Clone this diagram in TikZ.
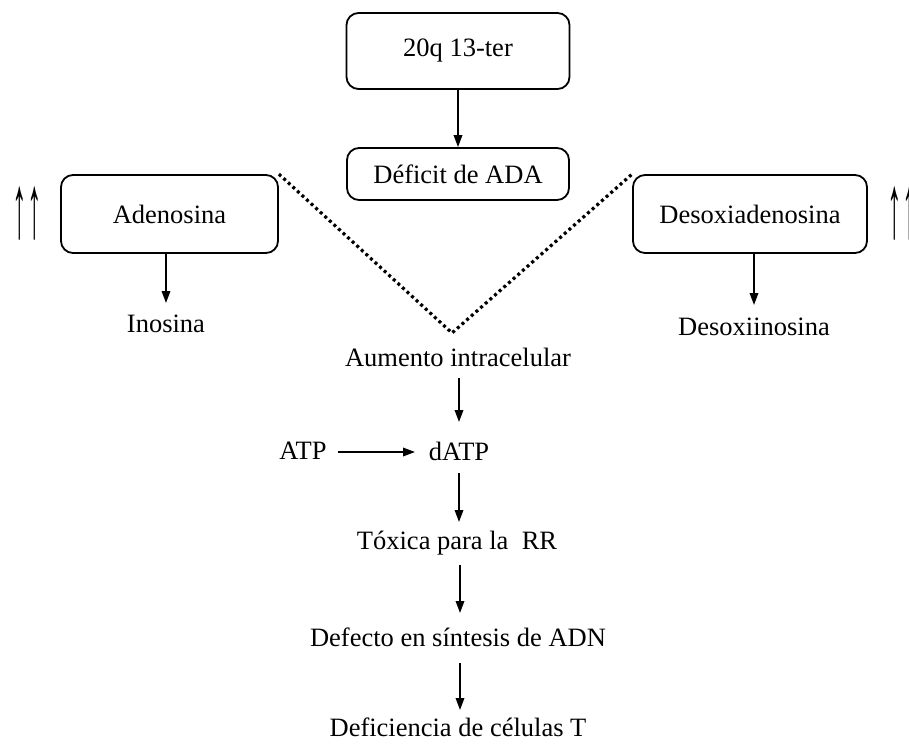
\documentclass[tikz,border=0pt]{standalone}
\usepackage{fontspec}
\usepackage{graphicx}
\setmainfont{Liberation Serif}
\usetikzlibrary{arrows.meta}
\begin{document}
\begin{tikzpicture}[x=1pt,y=-1pt,
  every node/.style={font=\fontsize{26.5}{30}\selectfont, inner sep=0pt},
  box/.style={draw, line width=1.8pt, rounded corners=12pt},
  arr/.style={line width=1.8pt, -{Triangle[width=8.5pt,length=12pt]}},
  dots/.style={line width=3.2pt, dash pattern=on 3pt off 3.2pt}]
\useasboundingbox (0,0) rectangle (909,744);
% boxes
\node[box, minimum width=223pt, minimum height=76pt] (top) at (458,51) {20q 13-ter};
\node[box, minimum width=222pt, minimum height=52pt] (ada) at (458,174) {Déficit de ADA};
\node[box, minimum width=217pt, minimum height=78pt] (ade) at (169.5,214) {Adenosina};
\node[box, minimum width=234pt, minimum height=78pt] (desa) at (750,214) {Desoxiadenosina};
% plain text nodes
\node (ino) at (166,324) {Inosina};
\node (desi) at (754,327) {Desoxiinosina};
\node (aum) at (458,357) {Aumento intracelular};
\node (atp) at (303,451) {ATP};
\node (datp) at (459,451) {dATP};
\node (tox) at (457,543) {Tóxica para la\ \ RR};
\node (def) at (458,637) {Defecto en síntesis de ADN};
\node (defc) at (458,727) {Deficiencia de células T};
% up arrows
\node (upl) at (27,214) {\scalebox{1.1}[3.4]{↑↑}};
\node (upr) at (902,214) {\scalebox{1.1}[3.4]{↑↑}};
% V point
\coordinate (v) at (452,333);
% connectors
\draw[arr] (top.south) -- (ada.north);
\draw[arr] (166,253) -- (166,303);
\draw[arr] (754,253) -- (754,305);
\draw[dots] (ade.north east) -- (v) -- (desa.north west);
\draw[arr] (459,378) -- (459,422);
\draw[arr] (338,452) -- (415,452);
\draw[arr] (459,473) -- (459,522);
\draw[arr] (460,565) -- (460,613);
\draw[arr] (460,663) -- (460,710);
\end{tikzpicture}
\end{document}
